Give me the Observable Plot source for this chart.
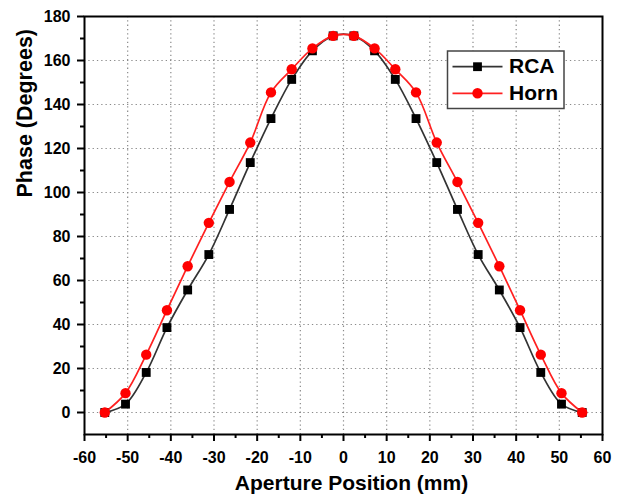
<!DOCTYPE html>
<html><head><meta charset="utf-8">
<script src="https://cdn.jsdelivr.net/npm/d3@7"></script>
<script src="https://cdn.jsdelivr.net/npm/@observablehq/plot@0.6"></script>
<style>body{margin:0;background:#fff} #wrap{position:relative;width:627px;height:499px}</style>
</head><body><div id="wrap"></div>
<script>
// Aperture positions (mm)
const positions = [-55.3,-50.5,-45.7,-40.9,-36.1,-31.2,-26.4,-21.6,-16.8,-12.0,-7.2,-2.4,
                   2.4,7.2,12.0,16.8,21.6,26.4,31.2,36.1,40.9,45.7,50.5,55.3];
// Phase (degrees)
const rcaPhase  = [0,3.8,18.2,38.6,55.7,71.8,92.3,113.6,133.6,151.4,164.4,171.2,
                   171.2,164.4,151.4,133.6,113.6,92.3,71.8,55.7,38.6,18.2,3.8,0];
const hornPhase = [0,8.8,26.3,46.5,66.5,86.2,104.8,122.7,145.5,156.0,165.5,171.2,
                   171.2,165.5,156.0,145.5,122.7,104.8,86.2,66.5,46.5,26.3,8.8,0];
const seriesNames = ["RCA","Horn"];
const xTicks = [-60,-50,-40,-30,-20,-10,0,10,20,30,40,50,60];
const xMinorTicks = [-55,-45,-35,-25,-15,-5,5,15,25,35,45,55];
const yTicks = [0,20,40,60,80,100,120,140,160,180];
const yMinorTicks = [10,30,50,70,90,110,130,150,170];
const xTitle = "Aperture Position (mm)";
const yTitle = "Phase (Degrees)";

const rca = positions.map((x,i)=>({x, y: rcaPhase[i]}));
const horn = positions.map((x,i)=>({x, y: hornPhase[i]}));

const FONT = "'Liberation Sans', Arial, sans-serif";
const rcaLine = "#333333", rcaMark = "#000000";
const hornLine = "#ff2020", hornMark = "#ff0000";
const gridStyle = {stroke:"#8a8a8a", strokeOpacity:1, strokeWidth:1.2, strokeDasharray:"1.3,3"};
const fmt = d => String(d);

const chart = Plot.plot({
  width: 627, height: 499,
  marginLeft: 84, marginRight: 25, marginTop: 16, marginBottom: 65,
  style: {fontFamily: FONT, background: "#fff", color: "#000"},
  x: {domain: [-60, 60]},
  y: {domain: [-10, 180]},
  marks: [
    Plot.gridX(xTicks.slice(1, -1), gridStyle),
    Plot.gridY(yTicks.slice(0, -1), gridStyle),
    Plot.line(rca, {x:"x", y:"y", stroke: rcaLine, strokeWidth: 1.7, curve: "catmull-rom"}),
    Plot.dot(rca, {x:"x", y:"y", symbol:"square", r:5, fill: rcaMark, stroke:"none"}),
    Plot.line(horn, {x:"x", y:"y", stroke: hornLine, strokeWidth: 1.7, curve: "catmull-rom"}),
    Plot.dot(horn, {x:"x", y:"y", symbol:"circle", r:5.2, fill: hornMark, stroke:"none"}),
    Plot.axisX(xTicks, {tickSize:7, tickPadding:10, tickFormat: fmt, fontSize:16, fontWeight:"bold", strokeWidth:2, label:null, stroke:"#000"}),
    Plot.axisX(xMinorTicks, {tickSize:4, text:null, strokeWidth:2, label:null, stroke:"#000"}),
    Plot.axisY(yTicks, {tickSize:7, tickPadding:7, tickFormat: fmt, fontSize:16, fontWeight:"bold", strokeWidth:2, label:null, stroke:"#000"}),
    Plot.axisY(yMinorTicks, {tickSize:4, text:null, strokeWidth:2, label:null, stroke:"#000"}),
    Plot.frame({stroke:"#000", strokeWidth:2}),
    Plot.text([xTitle], {text: d=>d, frameAnchor:"bottom", lineAnchor:"middle", dy:48.5, dx:8, fontSize:21, fontWeight:"bold", fill:"#000"}),
    Plot.text([yTitle], {text: d=>d, frameAnchor:"left", lineAnchor:"middle", rotate:-90, dx:-59, dy:-28, fontSize:21.5, fontWeight:"bold", fill:"#000"})
  ]
});
document.getElementById("wrap").appendChild(chart);

// Legend (drawn inside the chart's SVG)
const svg = d3.select(chart.tagName.toLowerCase() === "svg" ? chart : chart.querySelector("svg"));
const lg = svg.append("g").attr("font-family", FONT).attr("text-anchor", "start");
lg.append("rect").attr("x",447.5).attr("y",51).attr("width",116.5).attr("height",57.5)
  .attr("fill","#fff").attr("stroke","#444").attr("stroke-width",1.5);
const legendItems = [
  {name: seriesNames[0], line: rcaLine, mark: rcaMark, sym: "square", cy: 66.7, base: 72.8},
  {name: seriesNames[1], line: hornLine, mark: hornMark, sym: "circle", cy: 93.3, base: 100.3}
];
legendItems.forEach(it => {
  lg.append("line").attr("x1",452.5).attr("x2",502.5).attr("y1",it.cy).attr("y2",it.cy)
    .attr("stroke",it.line).attr("stroke-width",1.7);
  if (it.sym === "square") {
    lg.append("rect").attr("x",477.5-4.4).attr("y",it.cy-4.4).attr("width",8.8).attr("height",8.8).attr("fill",it.mark);
  } else {
    lg.append("circle").attr("cx",477.5).attr("cy",it.cy).attr("r",5.2).attr("fill",it.mark);
  }
  lg.append("text").attr("x",509).attr("y",it.base).attr("font-size",21).attr("font-weight","bold")
    .attr("text-anchor","start").attr("fill","#000").text(it.name);
});
</script>
</body></html>
